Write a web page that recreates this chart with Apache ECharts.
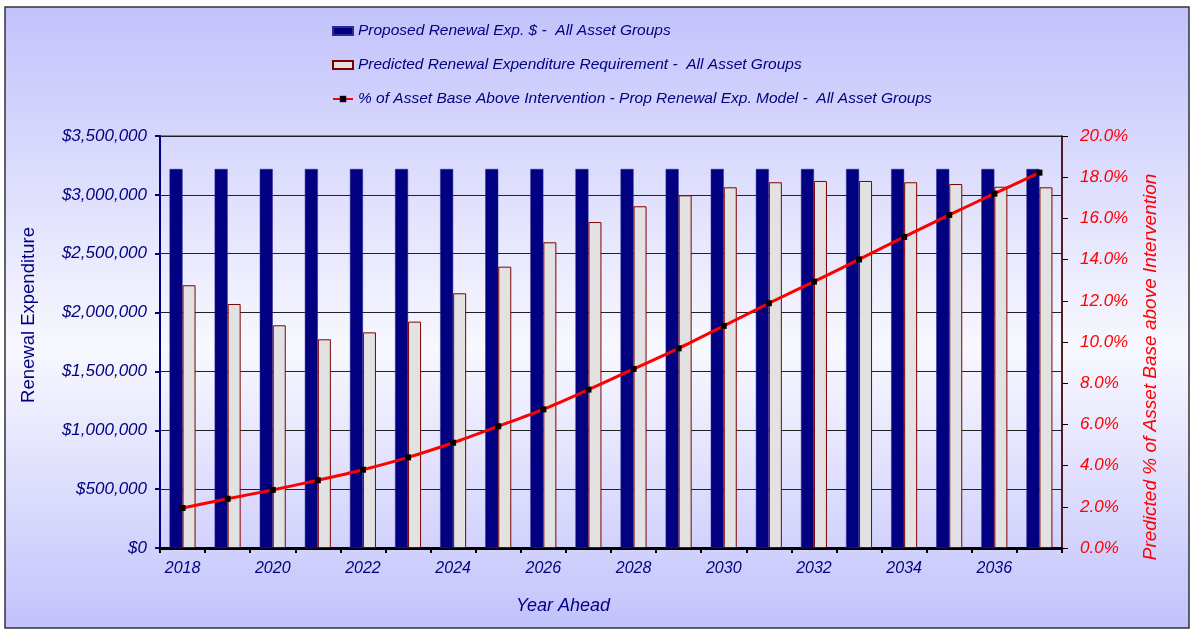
<!DOCTYPE html>
<html><head><meta charset="utf-8">
<script src="https://cdn.jsdelivr.net/npm/echarts@6/dist/echarts.min.js"></script>
<style>html,body{margin:0;padding:0;background:#fff;}#c{width:1192px;height:630px;}</style>
</head><body><div id="c"></div>
<script>
const years = ['2018','2019','2020','2021','2022','2023','2024','2025','2026','2027','2028','2029','2030','2031','2032','2033','2034','2035','2036','2037'];
const proposed = [3220000,3220000,3220000,3220000,3220000,3220000,3220000,3220000,3220000,3220000,3220000,3220000,3220000,3220000,3220000,3220000,3220000,3220000,3220000,3220000];
const predicted = [2232000,2073000,1892000,1773000,1832000,1923000,2164000,2390000,2597000,2769000,2903000,2996000,3064000,3107000,3118000,3118000,3107000,3092000,3069000,3064000];
const pctAbove = [1.94,2.39,2.82,3.29,3.80,4.40,5.11,5.91,6.73,7.69,8.69,9.69,10.78,11.88,12.93,14.01,15.10,16.17,17.20,18.22];
const leftTicks = {min:0, max:3500000, interval:500000};
const rightTicks = {min:0, max:20, interval:2};
const names = ['Proposed Renewal Exp. $ -  All Asset Groups','Predicted Renewal Expenditure Requirement -  All Asset Groups','% of Asset Base Above Intervention - Prop Renewal Exp. Model -  All Asset Groups'];

const FONT = '"Liberation Sans", Arial, sans-serif';
const NAVY = '#000080';
const chart = echarts.init(document.getElementById('c'));
chart.setOption({
  backgroundColor: '#fff',
  animation: false,
  textStyle: {fontFamily: FONT},
  graphic: [
    {type:'rect', z:-10, shape:{x:5,y:7,width:1184,height:621},
     style:{fill:new echarts.graphic.LinearGradient(0,0,0,1,[{offset:0,color:'#c2c2fc'},{offset:0.55,color:'#f8f8ff'},{offset:1,color:'#c2c2fc'}]), stroke:'#333', lineWidth:1.5}},
    {type:'text', x:563, y:606, style:{text:'Year Ahead', font:'italic 18px '+FONT, fill:NAVY, align:'center', verticalAlign:'middle'}},
    {type:'text', x:29, y:315, rotation:Math.PI/2, style:{text:'Renewal Expenditure', font:'18.5px '+FONT, fill:NAVY, align:'center', verticalAlign:'middle'}},
    {type:'text', x:1151, y:367, rotation:Math.PI/2, style:{text:'Predicted % of Asset Base above Intervention', font:'italic 19px '+FONT, fill:'#ff0000', align:'center', verticalAlign:'middle'}}
  ],
  legend: {
    orient:'vertical', left:327, top:18, itemGap:18, itemWidth:20, itemHeight:8,
    textStyle:{color:NAVY, fontStyle:'italic', fontSize:15.5, lineHeight:16, fontFamily:FONT},
    data: [
      {name:names[0], icon:'rect'},
      {name:names[1], icon:'rect'},
      {name:names[2]}
    ]
  },
  grid: {left:160, right:130, top:136, bottom:82, show:true, borderColor:'#800000', borderWidth:1, backgroundColor:'transparent'},
  xAxis: {
    type:'category', data: years, boundaryGap:true,
    axisLine:{lineStyle:{color:'#000', width:3}},
    axisTick:{show:true, interval:0, length:5, lineStyle:{color:'#000', width:2}},
    axisLabel:{interval:1, color:NAVY, fontStyle:'italic', fontSize:16, margin:13, fontFamily:FONT},
    splitLine:{show:false}
  },
  yAxis: [
    {type:'value', min:leftTicks.min, max:leftTicks.max, interval:leftTicks.interval, position:'left',
     axisLine:{show:true, lineStyle:{color:NAVY, width:2}},
     axisTick:{show:true, length:5, lineStyle:{color:NAVY, width:2}},
     axisLabel:{color:NAVY, fontStyle:'italic', fontSize:17, margin:13, fontFamily:FONT,
       formatter: v => '$' + v.toLocaleString('en-US')},
     splitLine:{show:true, lineStyle:{color:'#222', width:1}}},
    {type:'value', min:rightTicks.min, max:rightTicks.max, interval:rightTicks.interval, position:'right',
     axisLine:{show:true, lineStyle:{color:'#330000', width:1.5}},
     axisTick:{show:true, length:6, inside:false, lineStyle:{color:'#000', width:1}},
     axisLabel:{color:'#ff0000', fontStyle:'italic', fontSize:17, margin:18, fontFamily:FONT,
       formatter: v => v.toFixed(1) + '%'},
     splitLine:{show:false}}
  ],
  series: [
    {name:names[0], type:'bar', data:proposed, barWidth:13, barGap:'0%',
     itemStyle:{color:NAVY, borderColor:'#2a2a9a', borderWidth:0.5}},
    {name:names[1], type:'bar', data:predicted, barWidth:13, barGap:'0%',
     itemStyle:{color:'#e2e2e2', borderColor:'#800000', borderWidth:1}},
    {name:names[2], type:'line', yAxisIndex:1, data:pctAbove, smooth:0.3,
     lineStyle:{color:'#ff0000', width:3}, itemStyle:{color:'#000'},
     symbol:'rect', symbolSize:6, showSymbol:true, z:5}
  ]
});
</script></body></html>
